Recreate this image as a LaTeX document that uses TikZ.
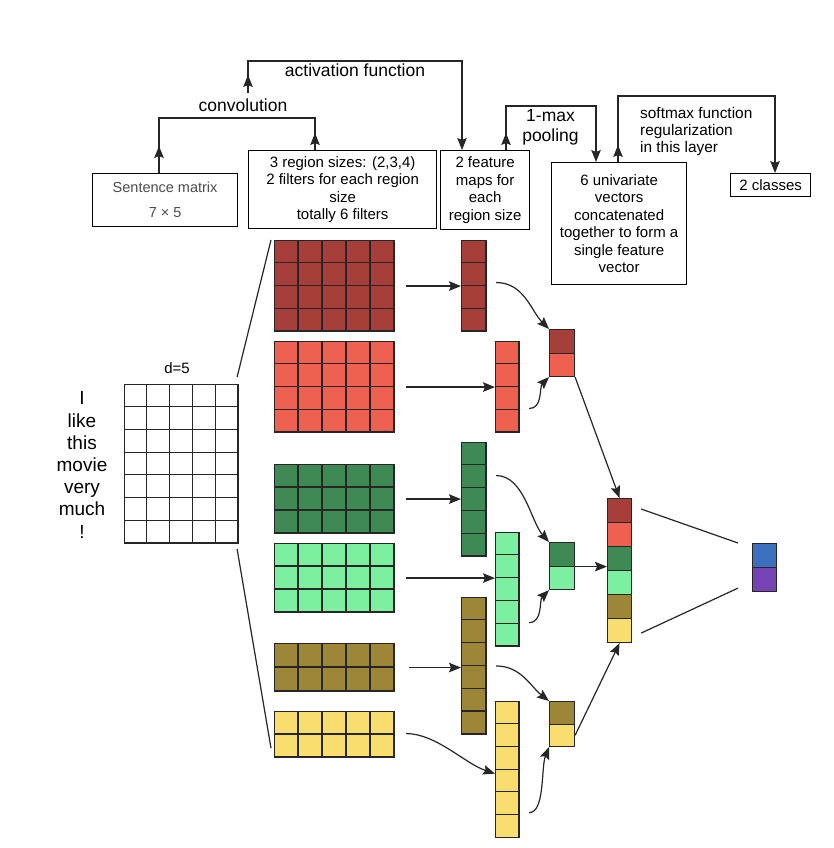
\documentclass[tikz,border=0pt]{standalone}
\usepackage{fontspec}
\setmainfont{Liberation Sans}
\usetikzlibrary{arrows.meta}

\definecolor{fdred}{HTML}{A63F39}
\definecolor{flred}{HTML}{EE6150}
\definecolor{fdgreen}{HTML}{3F8955}
\definecolor{flgreen}{HTML}{7DEFA1}
\definecolor{folive}{HTML}{9D8638}
\definecolor{fyellow}{HTML}{F9DD6E}
\definecolor{outblue}{HTML}{3B70BF}
\definecolor{outpurple}{HTML}{7444B4}

% name, top left, columns, rows, cell width, cell height, colour
\newcommand{\cellblock}[7]{%
  \node[cell, fill=#7, minimum width=#3*#5pt, minimum height=#4*#6pt] (#1) at (#2) {};
  \foreach \cx in {1,...,#3}
    \draw[cellline] ([xshift=\cx*#5pt]#1.north west) -- ([xshift=\cx*#5pt]#1.south west);
  \foreach \ry in {1,...,#4}
    \draw[cellline] ([yshift=-\ry*#6pt]#1.north west) -- ([yshift=-\ry*#6pt]#1.north east);
}

\begin{document}
\begin{tikzpicture}[x=1pt,y=-1pt,
	cell/.style={draw=black!85,line width=1.1pt,anchor=north west,inner sep=0pt},
	cellline/.style={draw=black!85,line width=1.1pt},
	wire/.style={line width=1.2pt,draw=black!85},
	link/.style={wire,-{Stealth[length=12pt,width=9.5pt,inset=2pt]}},
	box/.style={draw,line width=1.2pt,anchor=north west,inner sep=0pt,align=center,font=\fontsize{15}{17.4}\selectfont},
	lbl/.style={inner sep=0pt,font=\fontsize{17.5}{20}\selectfont}]
	\useasboundingbox[fill=white] (0,0) rectangle (834,848);

	\begin{scope}
	\node[box,minimum width=145,minimum height=53,text=black!70,font=\fontsize{14.5}{25}\selectfont] (sbox) at (92,173) {Sentence matrix\\7 × 5};
	\node[box,minimum width=188,minimum height=78] (fbox) at (248,150) {3 region sizes: (2,3,4)\\2 filters for each region\\size\\totally 6 filters};
	\node[box,minimum width=89,minimum height=79] (mbox) at (440,150) {2 feature\\maps for\\each\\region size};
	\node[box,minimum width=135,minimum height=122] (catbox) at (551,162) {6 univariate\\vectors\\concatenated\\together to form a\\single feature\\vector};
	\node[box,minimum width=80,minimum height=23] (clsbox) at (730,173) {2 classes};
	\end{scope}

	\node[lbl,anchor=base] (convlbl) at (243,111.5) {convolution};
	\node[lbl,anchor=base] (actlbl) at (355,77) {activation function};
	\node[lbl,align=center] (poollbl) at (550.5,127) {1-max\\pooling};
	\node[inner sep=0pt,anchor=north west,align=left,font=\fontsize{15.4}{16.8}\selectfont] (smxlbl) at (640,107.5) {softmax function\\regularization\\in this layer};

	\coordinate (cv1) at (159,118);
	\coordinate (cv2) at (315,118);
	\draw[wire] (sbox.north -| cv1) -- (cv1) -- (cv2) -- (fbox.north -| cv2);
	\draw[link] (sbox.north -| cv1) -- ++(0,-27);
	\draw[link] (fbox.north -| cv2) -- ++(0,-17);

	\coordinate (ac0) at (248,93);
	\coordinate (ac1) at (248,61);
	\coordinate (ac2) at (462,61);
	\draw[link] (ac0) -- (ac1) -- (ac2) -- (mbox.north -| ac2);
	\draw[link] (ac0) -- ++(0,-18);

	\coordinate (mp1) at (506,106);
	\coordinate (mp2) at (596,106);
	\draw[link] (mbox.north -| mp1) -- (mp1) -- (mp2) -- (catbox.north -| mp2);
	\draw[link] (mbox.north -| mp1) -- ++(0,-17);

	\coordinate (sx1) at (618,96);
	\coordinate (sx2) at (775,96);
	\draw[link] (catbox.north -| sx1) -- (sx1) -- (sx2) -- (clsbox.north -| sx2);
	\draw[link] (catbox.north -| sx1) -- ++(0,-17);

	\node[inner sep=0pt,align=center,font=\fontsize{19}{22.2}\selectfont] (words) at (82,465) {I\\like\\this\\movie\\very\\much\\!};
	\node[inner sep=0pt,font=\fontsize{15}{18}\selectfont] (dlbl) at (177,368) {d=5};
	\cellblock{smat}{124,384}{5}{7}{22.8}{22.7}{white}

	\cellblock{f1}{274,240}{5}{4}{24}{22.75}{fdred}
	\cellblock{f2}{274,341}{5}{4}{24}{22.75}{flred}
	\cellblock{f3}{274,464}{5}{3}{24}{23}{fdgreen}
	\cellblock{f4}{274,543}{5}{3}{24}{23}{flgreen}
	\cellblock{f5}{274,643}{5}{2}{24}{24}{folive}
	\cellblock{f6}{274,711}{5}{2}{24}{23}{fyellow}

	\cellblock{m1}{461,240}{1}{4}{25}{22.75}{fdred}
	\cellblock{m2}{495,341}{1}{4}{24}{22.75}{flred}
	\cellblock{m3}{461,442}{1}{5}{25}{22.8}{fdgreen}
	\cellblock{m4}{495,532}{1}{5}{24}{22.8}{flgreen}
	\cellblock{m5}{461,597}{1}{6}{25}{22.8}{folive}
	\cellblock{m6}{495,701}{1}{6}{24}{22.7}{fyellow}

	\node[cell,fill=fdred,minimum width=25,minimum height=23.5] (p1a) at (549,329) {};
	\node[cell,fill=flred,minimum width=25,minimum height=23.5] (p1b) at (549,352.5) {};
	\node[cell,fill=fdgreen,minimum width=25,minimum height=23.5] (p2a) at (549,542) {};
	\node[cell,fill=flgreen,minimum width=25,minimum height=23.5] (p2b) at (549,565.5) {};
	\node[cell,fill=folive,minimum width=25,minimum height=22.5] (p3a) at (549,701) {};
	\node[cell,fill=fyellow,minimum width=25,minimum height=22.5] (p3b) at (549,723.5) {};

	\foreach \k/\col in {1/fdred,2/flred,3/fdgreen,4/flgreen,5/folive,6/fyellow}
		\node[cell,fill=\col,minimum width=24,minimum height=24] (c\k) at (607,474+24*\k) {};

	\node[cell,fill=outblue,minimum width=24,minimum height=24] (o1) at (752,543) {};
	\node[cell,fill=outpurple,minimum width=24,minimum height=24] (o2) at (752,567) {};

	\draw[wire] ([xshift=-2pt,yshift=7pt]smat.north east) -- ([xshift=-3pt]f1.north west);
	\draw[wire] ([xshift=-2pt,yshift=-5pt]smat.south east) -- ([xshift=-3pt,yshift=10pt]f6.south west);

	\draw[link] ([xshift=11pt]f1.east) -- (f1.east -| m1.west);
	\draw[link] ([xshift=11pt]f2.east) -- (f2.east -| m2.west);
	\draw[link] ([xshift=11pt]f3.east) -- (f3.east -| m3.west);
	\draw[link] ([xshift=11pt]f4.east) -- (f4.east -| m4.west);
	\draw[link] ([xshift=14pt]f5.east) -- (f5.east -| m5.west);
	\draw[link] ([xshift=11pt,yshift=1pt]f6.east) .. controls +(30,0) and +(-30,-10) .. ([yshift=-4pt]m6.west);

	\draw[link] ([xshift=9pt,yshift=3.5pt]m1.east) .. controls +(28,0) and +(-18,-18) .. (p1a.north west);
	\draw[link] ([xshift=9pt,yshift=-21.5pt]m2.east) .. controls +(14,0) and +(-10,10) .. (p1b.south west);
	\draw[link] ([xshift=9pt,yshift=24pt]m3.east) .. controls +(28,0) and +(-18,-20) .. (p2a.north west);
	\draw[link] ([xshift=9pt,yshift=-33pt]m4.east) .. controls +(14,0) and +(-10,10) .. (p2b.south west);
	\draw[link] ([xshift=9pt]m5.east) .. controls +(25,0) and +(-18,-14) .. (p3a.north west);
	\draw[link] ([xshift=9pt,yshift=-43pt]m6.east) .. controls +(16,0) and +(-8,20) .. (p3b.south west);

	\draw[link] (p1b.south east) -- (c1.north);
	\draw[link] (p2a.south east) -- (p2a.south east -| c4.west);
	\draw[link] (p3b.east) -- (c6.south);

	\draw[wire] ([xshift=9pt,yshift=-11pt]c1.north east) -- ([xshift=-14pt]o1.north west);
	\draw[wire] ([xshift=9pt,yshift=10pt]c6.south east) -- ([xshift=-14pt,yshift=4pt]o2.south west);
\end{tikzpicture}
\end{document}
